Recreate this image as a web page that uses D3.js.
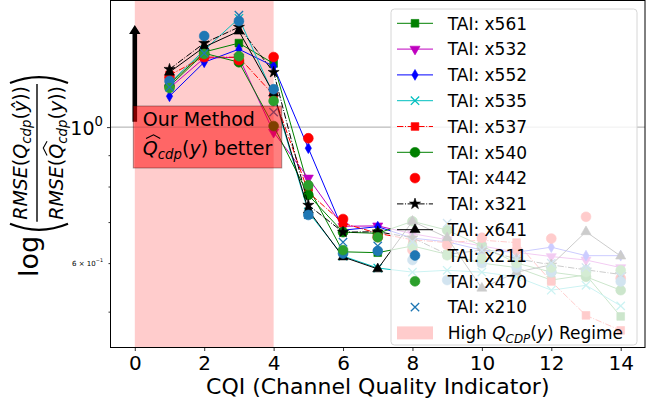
<!DOCTYPE html>
<html>
<head>
<meta charset="utf-8">
<script src="https://cdn.jsdelivr.net/npm/d3@7"></script>
<style>
    body { margin: 0; background: #fff; }
    svg { display: block; font-family: "DejaVu Sans", sans-serif; }
    text { white-space: pre; }
</style>
</head>
<body>
<div id="chart"></div>
<script>

// x positions (CQI) and axis ticks
let cqi = [1, 2, 3, 4, 5, 6, 7, 8, 9, 10, 11, 12, 13, 14];
let xTicks = [0, 2, 4, 6, 8, 10, 12, 14];
let yMajorTicks = [1];
let yMinorTicks = [0.5, 0.6, 0.7, 0.8, 0.9];
let regime = [0, 4];

// ratio values per TAI
let tai561 = [1.175, 1.326, 1.371, 1.270, 0.798, 0.626, 0.624, 0.640, 0.620, 0.600, 0.590, 0.563, 0.574, 0.491];
let tai532 = [1.158, 1.296, 1.300, 0.981, 0.826, 0.689, 0.690, 0.670, 0.655, 0.640, 0.625, 0.615, 0.607, 0.590];
let tai552 = [1.123, 1.276, 1.340, 1.257, 0.924, 0.679, 0.688, 0.659, 0.650, 0.630, 0.625, 0.637, 0.617, 0.617];
let tai535 = [1.180, 1.335, 1.505, 1.128, 0.727, 0.616, 0.589, 0.580, 0.584, 0.580, 0.570, 0.542, 0.552, 0.511];
let tai537 = [1.216, 1.301, 1.300, 1.128, 0.783, 0.697, 0.671, 0.655, 0.648, 0.654, 0.648, 0.560, 0.493, 0.466];
let tai540 = [1.166, 1.320, 1.276, 1.004, 0.775, 0.674, 0.671, 0.702, 0.679, 0.640, 0.600, 0.580, 0.570, 0.542];
let tai442 = [1.206, 1.301, 1.286, 1.301, 0.959, 0.708, 0.662, 0.630, 0.642, 0.660, 0.630, 0.658, 0.714, 0.567];
let tai321 = [1.243, 1.371, 1.456, 1.229, 0.746, 0.674, 0.675, 0.660, 0.620, 0.630, 0.610, 0.596, 0.585, 0.575];
let tai641 = [1.229, 1.351, 1.434, 1.136, 0.732, 0.614, 0.587, 0.702, 0.660, 0.546, 0.580, 0.596, 0.675, 0.616];
let tai211 = [1.189, 1.408, 1.489, 1.153, 0.719, 0.622, 0.628, 0.607, 0.563, 0.600, 0.590, 0.580, 0.584, 0.560];
let tai470 = [1.158, 1.316, 1.305, 1.103, 0.804, 0.630, 0.661, 0.640, 0.618, 0.610, 0.600, 0.590, 0.580, 0.584];
let tai210 = [1.162, 1.320, 1.523, 1.058, 0.720, 0.649, 0.640, 0.650, 0.697, 0.630, 0.610, 0.600, 0.590, 0.570];

let taiNames = ["x561", "x532", "x552", "x535", "x537", "x540", "x442", "x321", "x641", "x211", "x470", "x210"];
let taiValues = [tai561, tai532, tai552, tai535, tai537, tai540, tai442, tai321, tai641, tai211, tai470, tai210];

// look of each series (matplotlib format strings)
let dashDot = "6.4,1.6,1,1.6";
let seriesStyle = {
    x561: {color: "#008000", marker: "s", line: true},
    x532: {color: "#bf00bf", marker: "v", line: true},
    x552: {color: "#0000ff", marker: "d", line: true},
    x535: {color: "#00bfbf", marker: "x", line: true},
    x537: {color: "#ff0000", marker: "s", line: true, dash: dashDot},
    x540: {color: "#008000", marker: "o", line: true},
    x442: {color: "#ff0000", marker: "o", line: false},
    x321: {color: "#000000", marker: "*", line: true, dash: dashDot},
    x641: {color: "#000000", marker: "^", line: true},
    x211: {color: "#1f77b4", marker: "o", line: false},
    x470: {color: "#2ca02c", marker: "o", line: false},
    x210: {color: "#1f77b4", marker: "x", line: false}
};

// 'x' marker as a d3 symbol type
let symbolCross = {
    draw(ctx, size) {
        let r = Math.sqrt(size) / 2;
        ctx.moveTo(-r, -r); ctx.lineTo(r, r);
        ctx.moveTo(-r, r); ctx.lineTo(r, -r);
    }
};

let markerTypes = {
    s: [d3.symbolSquare, 60, 0],
    o: [d3.symbolCircle, 76, 0],
    v: [d3.symbolTriangle, 44, 180],
    "^": [d3.symbolTriangle, 44, 0],
    d: [d3.symbolDiamond, 34, 0],
    "*": [d3.symbolStar, 38, 0],
    x: [symbolCross, 70, 0]
};


class LineVis {

    constructor(parentElement, names, values) {
        this.parentElement = parentElement;
        this.names = names;
        this.values = values;

        this.initVis();
    }

    initVis() {
        let vis = this;

        vis.width = 649;
        vis.height = 407;
        vis.plot = {left: 110.5, right: 645, top: 0.5, bottom: 347.5};

        // init drawing area
        vis.svg = d3.select("#" + vis.parentElement).append("svg")
            .attr("width", vis.width)
            .attr("height", vis.height);

        vis.svg.append("clipPath").attr("id", "plot-clip")
            .append("rect")
            .attr("x", vis.plot.left).attr("y", vis.plot.top)
            .attr("width", vis.plot.right - vis.plot.left)
            .attr("height", vis.plot.bottom - vis.plot.top);

        // scales
        vis.x = d3.scaleLinear()
            .domain([-0.7, 14.7])
            .range([vis.plot.left, vis.plot.right]);

        vis.y = d3.scaleLog()
            .domain([0.437, 1.609])
            .range([vis.plot.bottom, vis.plot.top]);

        vis.line = d3.line()
            .x((d, i) => vis.x(cqi[i]))
            .y(d => vis.y(d));

        vis.updateVis();
    }

    updateVis() {
        let vis = this;

        let plotArea = vis.svg.append("g").attr("clip-path", "url(#plot-clip)");

        // high Q_CDP regime band
        plotArea.append("rect")
            .attr("x", vis.x(regime[0]))
            .attr("width", vis.x(regime[1]) - vis.x(regime[0]))
            .attr("y", vis.plot.top)
            .attr("height", vis.plot.bottom - vis.plot.top)
            .attr("fill", "#ffcccc");

        // reference line at ratio 1
        plotArea.append("line")
            .attr("x1", vis.plot.left).attr("x2", vis.plot.right)
            .attr("y1", vis.y(1)).attr("y2", vis.y(1))
            .attr("stroke", "#aaaaaa").attr("stroke-width", 1);

        // series, in plotting order
        vis.names.forEach((name, k) => {
            let st = seriesStyle[name];
            let g = plotArea.append("g").attr("class", "series");

            if (st.line) {
                g.append("path")
                    .datum(vis.values[k])
                    .attr("d", vis.line)
                    .attr("fill", "none")
                    .attr("stroke", st.color)
                    .attr("stroke-width", 1)
                    .attr("stroke-dasharray", st.dash || null);
            }

            g.selectAll(".marker")
                .data(vis.values[k])
                .enter().append("path")
                .attr("class", "marker")
                .attr("d", vis.markerPath(st.marker))
                .attr("transform", (d, i) => `translate(${vis.x(cqi[i])},${vis.y(d)}) rotate(${markerTypes[st.marker][2]})`)
                .call(sel => vis.paintMarker(sel, st));
        });

        // annotation: arrow + red box
        let ax = vis.x(0);
        let yTip = vis.y(1.467);
        let yTail = vis.y(1.02);
        vis.svg.append("path")
            .attr("d", `M${ax},${yTip} L${ax + 5.7},${yTip + 9} L${ax + 2.3},${yTip + 9} L${ax + 2.3},${yTail} L${ax - 2.3},${yTail} L${ax - 2.3},${yTip + 9} L${ax - 5.7},${yTip + 9} Z`)
            .attr("fill", "#000");

        let noteX = vis.x(0) + 8;
        let noteBox = vis.svg.append("rect");
        let noteG = vis.svg.append("g");
        let l1 = noteG.append("g").attr("transform", `translate(${noteX},125.5)`);
        let w1 = vis.mathRun(l1, [{t: "Our Method"}], 19);
        let l2 = noteG.append("g").attr("transform", `translate(${noteX},154.5)`);
        let w2 = vis.mathRun(l2, [
            {t: "Q", it: true, hat: true},
            {t: "cdp", it: true, scale: 0.7, shift: 0.22},
            {t: "("}, {t: "y", it: true}, {t: ")"}, {t: " better"}
        ], 19);
        noteBox
            .attr("x", noteX - 9.5).attr("y", 106)
            .attr("width", Math.max(w1, w2) + 19).attr("height", 62)
            .attr("fill", "rgba(255,0,0,0.5)")
            .attr("stroke", "rgba(0,0,0,0.35)").attr("stroke-width", 1);

        // axes
        let xAxis = d3.axisBottom(vis.x).tickValues(xTicks).tickSize(3.5).tickPadding(4.8);
        let gx = vis.svg.append("g")
            .attr("transform", `translate(0,${vis.plot.bottom})`)
            .call(xAxis);
        gx.select(".domain").remove();
        gx.selectAll("text").style("font-size", "20px").attr("font-family", "DejaVu Sans").attr("fill", "#000");

        let gyMajor = vis.svg.append("g")
            .attr("transform", `translate(${vis.plot.left},0)`)
            .call(d3.axisLeft(vis.y).tickValues(yMajorTicks).tickSize(3.5).tickFormat(""));
        let gyMinor = vis.svg.append("g")
            .attr("transform", `translate(${vis.plot.left},0)`)
            .call(d3.axisLeft(vis.y).tickValues(yMinorTicks).tickSize(2).tickFormat(""));
        gyMajor.select(".domain").remove();
        gyMinor.select(".domain").remove();
        vis.svg.selectAll(".tick line").attr("stroke", "#000").attr("stroke-width", 0.8);

        // y tick labels in 10^n form
        let lab0 = vis.svg.append("g");
        let wl0 = vis.mathRun(lab0, [{t: "10"}, {t: "0", scale: 0.7, shift: -0.45}], 19);
        lab0.attr("transform", `translate(${103 - wl0},${vis.y(1) + 7.5})`);

        let lab6 = vis.svg.append("g");
        let wl6 = vis.mathRun(lab6, [{t: "6 × 10"}, {t: "−1", scale: 0.7, shift: -0.45}], 7);
        lab6.attr("transform", `translate(${103 - wl6},${vis.y(0.6) + 2.5})`);

        // frame
        vis.svg.append("rect")
            .attr("x", vis.plot.left).attr("y", vis.plot.top)
            .attr("width", vis.plot.right - vis.plot.left)
            .attr("height", vis.plot.bottom - vis.plot.top)
            .attr("fill", "none").attr("stroke", "#000").attr("stroke-width", 1);

        // axis titles
        vis.svg.append("text")
            .attr("x", (vis.plot.left + vis.plot.right) / 2)
            .attr("y", 394)
            .attr("text-anchor", "middle")
            .style("font-size", "22px")
            .text("CQI (Channel Quality Indicator)");

        vis.drawYLabel();
        vis.drawLegend();
    }

    markerPath(type) {
        let m = markerTypes[type];
        return d3.symbol(m[0], m[1])();
    }

    paintMarker(sel, st) {
        if (st.marker === "x") {
            sel.attr("fill", "none").attr("stroke", st.color).attr("stroke-width", 1.3);
        } else {
            sel.attr("fill", st.color).attr("stroke", st.color).attr("stroke-width", 0.6);
        }
    }

    // lays out text pieces left to right on baseline y = 0, returns width
    mathRun(parent, segs, size) {
        let x = 0;
        segs.forEach(s => {
            let fs = size * (s.scale || 1);
            let t = parent.append("text")
                .attr("x", x)
                .attr("y", (s.shift || 0) * size)
                .style("font-size", fs + "px")
                .style("font-style", s.it ? "italic" : "normal")
                .attr("fill", "#000")
                .text(s.t);
            let w = t.node().getComputedTextLength();
            if (s.hat) {
                let top = -0.76 * fs - 1.5;
                parent.append("path")
                    .attr("d", `M${x + 0.12 * w + 1.5},${top} L${x + 0.55 * w + 2.5},${top - 0.2 * fs} L${x + w + 2.5},${top}`)
                    .attr("fill", "none").attr("stroke", "#000").attr("stroke-width", 1.1);
            }
            x += w;
        });
        return x;
    }

    drawYLabel() {
        let vis = this;

        let gl = vis.svg.append("g")
            .attr("transform", "translate(38,175) rotate(-90)");

        let logG = gl.append("g");
        let wLog = vis.mathRun(logG, [{t: "log"}], 27);

        let numG = gl.append("g");
        let wNum = vis.mathRun(numG, [
            {t: "RMSE", it: true}, {t: "("}, {t: "Q", it: true},
            {t: "cdp", it: true, scale: 0.7, shift: 0.22},
            {t: "("}, {t: "ŷ", it: true}, {t: "))"}
        ], 19);

        let denG = gl.append("g");
        let wDen = vis.mathRun(denG, [
            {t: "RMSE", it: true}, {t: "("}, {t: "Q", it: true, hat: true},
            {t: "cdp", it: true, scale: 0.7, shift: 0.22},
            {t: "("}, {t: "y", it: true}, {t: "))"}
        ], 19);

        let parenW = 11;
        let wFrac = Math.max(wNum, wDen) + 4;
        let total = wLog + 3 + parenW + wFrac + parenW;
        let u0 = -total / 2;

        logG.attr("transform", `translate(${u0},0)`);

        let pl = u0 + wLog + 3;
        gl.append("path")
            .attr("d", `M${pl + 9},-28 Q${pl - 3},1 ${pl + 9},30`)
            .attr("fill", "none").attr("stroke", "#000").attr("stroke-width", 2.2);

        let fx = pl + parenW;
        gl.append("line")
            .attr("x1", fx).attr("x2", fx + wFrac)
            .attr("y1", -1).attr("y2", -1)
            .attr("stroke", "#000").attr("stroke-width", 1.4);
        numG.attr("transform", `translate(${fx + (wFrac - wNum) / 2},-11)`);
        denG.attr("transform", `translate(${fx + (wFrac - wDen) / 2},25)`);

        let pr = fx + wFrac + 1;
        gl.append("path")
            .attr("d", `M${pr},-28 Q${pr + 12},1 ${pr},30`)
            .attr("fill", "none").attr("stroke", "#000").attr("stroke-width", 2.2);
    }

    drawLegend() {
        let vis = this;

        let lg = vis.svg.append("g").attr("class", "legend");
        lg.append("rect")
            .attr("x", 391).attr("y", 9)
            .attr("width", 246).attr("height", 336)
            .attr("rx", 3.5)
            .attr("fill", "rgba(255,255,255,0.8)")
            .attr("stroke", "#d6d6d6").attr("stroke-width", 1);

        let rowY = i => 23.3 + 25.8 * i;

        vis.names.forEach((name, i) => {
            let st = seriesStyle[name];
            let y = rowY(i);
            if (st.line) {
                lg.append("line")
                    .attr("x1", 397).attr("x2", 433)
                    .attr("y1", y).attr("y2", y)
                    .attr("stroke", st.color).attr("stroke-width", 1)
                    .attr("stroke-dasharray", st.dash || null);
            }
            lg.append("path")
                .attr("d", vis.markerPath(st.marker))
                .attr("transform", `translate(415,${y}) rotate(${markerTypes[st.marker][2]})`)
                .call(sel => vis.paintMarker(sel, st));
            lg.append("text")
                .attr("x", 447.7).attr("y", y + 6.2)
                .style("font-size", "17px")
                .text("TAI: " + name);
        });

        let yLast = rowY(vis.names.length);
        lg.append("rect")
            .attr("x", 397).attr("y", yLast - 6.5)
            .attr("width", 36).attr("height", 13)
            .attr("fill", "#ffcccc");
        let lt = lg.append("g").attr("transform", `translate(447.7,${yLast + 6.2})`);
        vis.mathRun(lt, [
            {t: "High "}, {t: "Q", it: true},
            {t: "CDP", it: true, scale: 0.7, shift: 0.22},
            {t: "("}, {t: "y", it: true}, {t: ")"}, {t: " Regime"}
        ], 17);
    }
}

let lineVis = new LineVis("chart", taiNames, taiValues);

</script>
</body>
</html>
